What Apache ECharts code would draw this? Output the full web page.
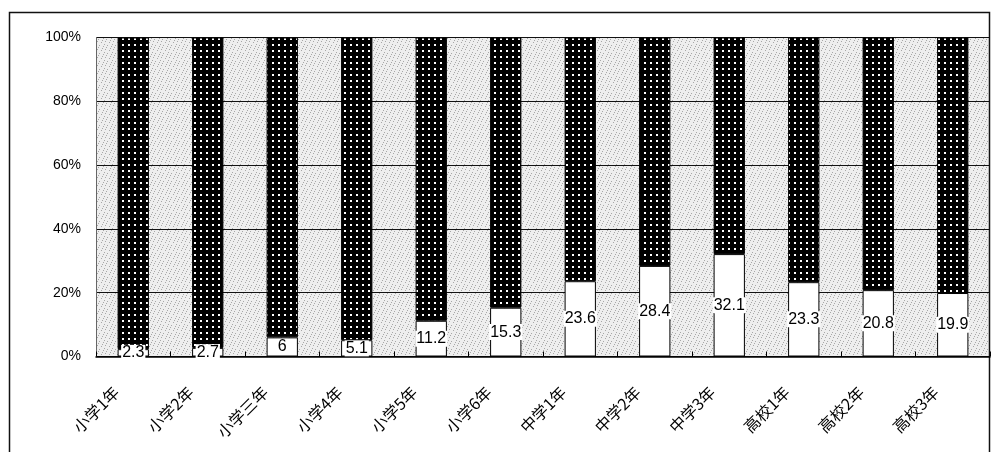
<!DOCTYPE html>
<html>
<head>
<meta charset="utf-8">
<script src="https://cdn.jsdelivr.net/npm/echarts@6/dist/echarts.min.js"></script>
<style>
html,body{margin:0;padding:0;background:#fff;}
#chart{width:991px;height:452px;}
</style>
</head>
<body>
<div id="chart"></div>
<script>
const categories = ['小学1年','小学2年','小学三年','小学4年','小学5年','小学6年','中学1年','中学2年','中学3年','高校1年','高校2年','高校3年'];
const whiteValues = [2.3, 2.7, 6, 5.1, 11.2, 15.3, 23.6, 28.4, 32.1, 23.3, 20.8, 19.9];
const darkValues = [97.7, 97.3, 94, 94.9, 88.8, 84.7, 76.4, 71.6, 67.9, 76.7, 79.2, 80.1];
const yTicks = [0, 20, 40, 60, 80, 100];

// dotted pattern for dark bars
const dot = document.createElement('canvas');
dot.width = 6; dot.height = 6;
const dctx = dot.getContext('2d');
dctx.fillStyle = '#000'; dctx.fillRect(0,0,6,6);
dctx.fillStyle = '#fff'; dctx.fillRect(2,2,2,2);

// light speckle-like pattern for plot background
const bg = document.createElement('canvas');
bg.width = 8; bg.height = 8;
const bctx = bg.getContext('2d');
bctx.fillStyle = '#eeeeee'; bctx.fillRect(0,0,8,8);
bctx.fillStyle = '#a8a8a8';
[[1,1],[5,2],[3,5],[7,6],[0,4],[6,0],[2,7]].forEach(p => bctx.fillRect(p[0],p[1],1,1));

const chart = echarts.init(document.getElementById('chart'));
chart.setOption({
  animation: false,
  backgroundColor: '#fff',
  graphic: [{
    type: 'rect',
    shape: { x: 9.5, y: 12.5, width: 980, height: 460 },
    style: { fill: null, stroke: '#111', lineWidth: 1.5 },
    z: 0
  }],
  grid: {
    left: 96, right: 1, top: 37.5, bottom: 95.5,
    show: true,
    backgroundColor: { image: bg, repeat: 'repeat' },
    borderWidth: 0
  },
  xAxis: {
    type: 'category',
    data: categories,
    axisLine: { show: true, lineStyle: { color: '#000', width: 1.5 } },
    axisTick: { show: true, inside: true, length: 5, lineStyle: { color: '#000' } },
    axisLabel: {
      rotate: 45, margin: 16, color: '#000', fontSize: 16,
      fontFamily: 'Noto Sans CJK JP', interval: 0, padding: [0, 24, 0, 0]
    },
    splitLine: { show: false }
  },
  yAxis: {
    type: 'value',
    min: yTicks[0], max: yTicks[yTicks.length - 1], interval: 20,
    axisLine: { show: true, lineStyle: { color: '#666', width: 1 } },
    axisTick: { show: false },
    axisLabel: {
      formatter: '{value}%', color: '#000', fontSize: 14, margin: 15,
      fontFamily: 'Liberation Sans'
    },
    splitLine: { show: true, lineStyle: { color: '#111', width: 1.2 } }
  },
  series: [
    {
      type: 'bar', stack: 'all', data: whiteValues, barWidth: '42%',
      itemStyle: { color: '#fff', borderColor: '#000', borderWidth: 1 },
      label: {
        show: true, position: 'inside', color: '#000', fontSize: 16,
        fontFamily: 'Liberation Sans', backgroundColor: '#fff', padding: [0, 1]
      },
      z: 3
    },
    {
      type: 'bar', stack: 'all', data: darkValues, barWidth: '42%',
      itemStyle: { color: { image: dot, repeat: 'repeat' }, borderColor: '#000', borderWidth: 1 },
      label: { show: false },
      z: 2
    }
  ]
});
</script>
</body>
</html>
